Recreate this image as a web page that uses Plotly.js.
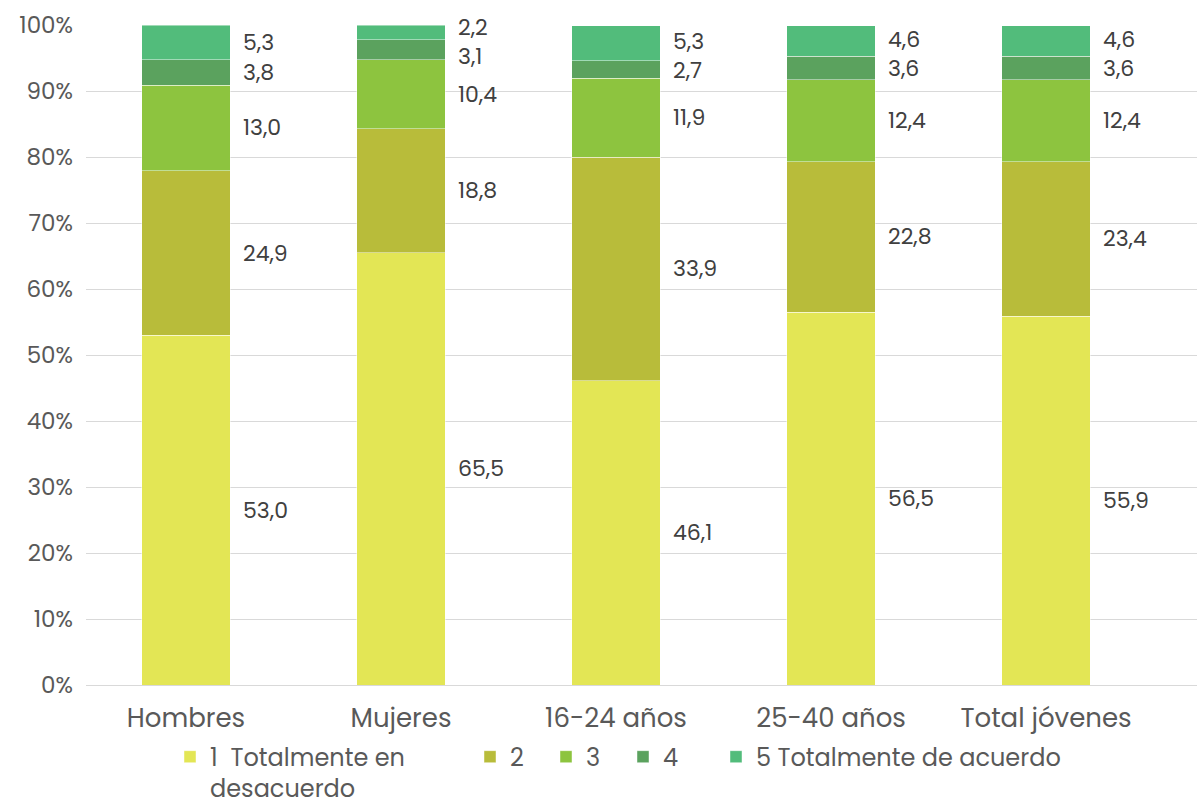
<!DOCTYPE html>
<html>
<head>
<meta charset="utf-8">
<script src="https://cdn.plot.ly/plotly-3.0.1.min.js"></script>
<style>html,body{margin:0;padding:0;background:#fff;}#chart{width:1197px;height:805px;}</style>
</head>
<body>
<div id="chart"></div>
<script>
const categories = ["Hombres", "Mujeres", "16-24 años", "25-40 años", "Total jóvenes"];
const seriesNames = ["1  Totalmente en<br>desacuerdo", "2", "3", "4", "5 Totalmente de acuerdo"];
const s1 = [53.0, 65.5, 46.1, 56.5, 55.9];
const s2 = [24.9, 18.8, 33.9, 22.8, 23.4];
const s3 = [13.0, 10.4, 11.9, 12.4, 12.4];
const s4 = [3.8, 3.1, 2.7, 3.6, 3.6];
const s5 = [5.3, 2.2, 5.3, 4.6, 4.6];
const yTickVals = [0, 10, 20, 30, 40, 50, 60, 70, 80, 90, 100];
const yTickText = ["0%", "10%", "20%", "30%", "40%", "50%", "60%", "70%", "80%", "90%", "100%"];

const series = [s1, s2, s3, s4, s5];
const colors = ["#E3E655", "#B8BC3A", "#8DC43F", "#5BA25E", "#52BC7B"];
const FONT = "Poppins, 'Open Sans', sans-serif";
const legendIds = ["legend", "legend2", "legend3", "legend4", "legend5"];
const legendLeftPx = [170, 470, 546, 623, 716];

const traces = series.map((vals, i) => ({
  type: "bar",
  name: seriesNames[i],
  legend: legendIds[i],
  x: categories,
  y: vals,
  width: 0.41,
  marker: {color: colors[i], line: {color: "rgba(255,255,255,0.45)", width: 1}},
  hoverinfo: "skip"
}));

// label positions: segment middles, with a simple collision spread
const minGap = 4.4; // in axis units (~29px)
const annotations = [];
categories.forEach((c, j) => {
  let base = 0;
  const pos = series.map((vals) => { const m = base + vals[j] / 2; base += vals[j]; return m; });
  for (let k = pos.length - 1; k > 0; k--) {
    const gap = pos[k] - pos[k - 1];
    if (gap < minGap) {
      const d = (minGap - gap) / 2;
      pos[k] = Math.min(pos[k] + d, 99.6);
      pos[k - 1] = pos[k] - minGap;
    }
  }
  series.forEach((vals, i) => {
    annotations.push({
      x: c, y: pos[i], xref: "x", yref: "y",
      text: vals[j].toFixed(1).replace(".", ","),
      showarrow: false, xanchor: "left", yanchor: "middle", xshift: 55,
      font: {family: FONT, size: 22, color: "#404040"}
    });
  });
});

const layout = {
  width: 1197, height: 805,
  margin: {l: 86, r: 0, t: 25, b: 120},
  paper_bgcolor: "#fff", plot_bgcolor: "#fff",
  barmode: "stack",
  font: {family: FONT, color: "#595959"},
  showlegend: true,
  xaxis: {
    type: "category",
    range: [-0.465, 4.702],
    tickfont: {family: FONT, size: 26, color: "#595959"},
    showgrid: false, zeroline: false,
    showline: true, linecolor: "#d9d9d9", linewidth: 1,
    ticks: "", ticklen: 0, ticklabelstandoff: 10, automargin: false
  },
  yaxis: {
    range: [0, 100],
    tickvals: yTickVals, ticktext: yTickText,
    tickfont: {family: FONT, size: 23, color: "#595959"},
    showgrid: true, gridcolor: "#d9d9d9", gridwidth: 1,
    zeroline: false, showline: false, ticks: "", ticklabelstandoff: 12, automargin: false
  },
  annotations: annotations
};

legendIds.forEach((id, i) => {
  layout[id] = {
    orientation: "h", x: (legendLeftPx[i] - 86) / 1111, xanchor: "left",
    yref: "container", y: 0.0875, yanchor: "top",
    font: {family: FONT, size: 24, color: "#595959"},
    valign: "top", itemwidth: 30, bgcolor: "rgba(0,0,0,0)"
  };
});

Plotly.newPlot("chart", traces, layout, {displayModeBar: false, staticPlot: true});
</script>
</body>
</html>
